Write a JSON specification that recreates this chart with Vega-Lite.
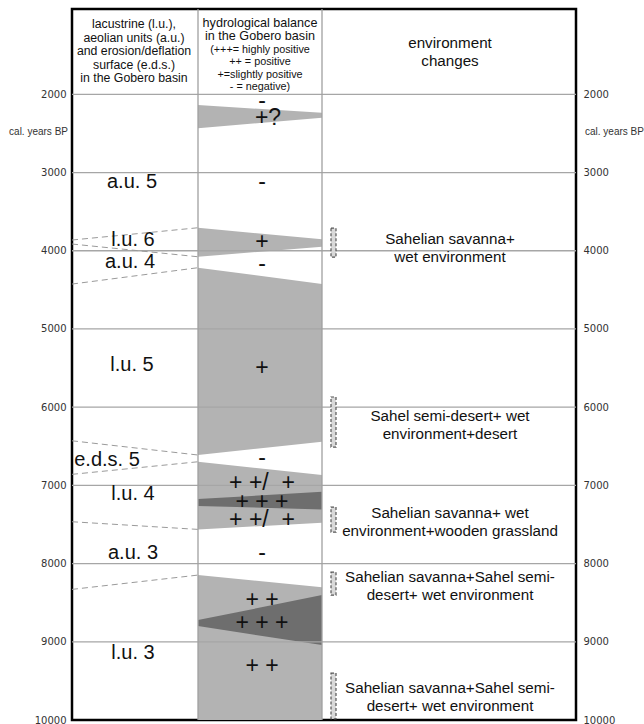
{
  "$schema": "https://vega.github.io/schema/vega-lite/v6.json",
  "width": 504,
  "height": 711,
  "autosize": "none",
  "padding": {"left": 72, "top": 9, "right": 68, "bottom": 4},
  "config": {
    "view": {"stroke": "#000", "strokeWidth": 2.5},
    "text": {"font": "Liberation Sans", "color": "#111"}
  },
  "datasets": {
    "shades": [
      {"id": "p1", "tone": "light", "pos": 126, "top": 2137, "bottom": 2435},
      {"id": "p1", "tone": "light", "pos": 250, "top": 2235, "bottom": 2299},
      {"id": "p2", "tone": "light", "pos": 126, "top": 3706, "bottom": 4077},
      {"id": "p2", "tone": "light", "pos": 250, "top": 3854, "bottom": 3949},
      {"id": "p3", "tone": "light", "pos": 126, "top": 4217, "bottom": 6612},
      {"id": "p3", "tone": "light", "pos": 250, "top": 4426, "bottom": 6442},
      {"id": "p4", "tone": "light", "pos": 126, "top": 6698, "bottom": 7563},
      {"id": "p4", "tone": "light", "pos": 250, "top": 6868, "bottom": 7478},
      {"id": "p5", "tone": "light", "pos": 126, "top": 8147, "bottom": 10000},
      {"id": "p5", "tone": "light", "pos": 250, "top": 8304, "bottom": 10000},
      {"id": "d1", "tone": "dark", "pos": 126, "top": 7175, "bottom": 7264},
      {"id": "d1", "tone": "dark", "pos": 250, "top": 7082, "bottom": 7307},
      {"id": "d2", "tone": "dark", "pos": 126, "top": 8722, "bottom": 8799},
      {"id": "d2", "tone": "dark", "pos": 250, "top": 8403, "bottom": 9042}
    ],
    "bounds": [
      {"id": "A", "pos": 0, "year": 3863}, {"id": "A", "pos": 126, "year": 3706},
      {"id": "B", "pos": 0, "year": 3914}, {"id": "B", "pos": 126, "year": 4077},
      {"id": "C", "pos": 0, "year": 4426}, {"id": "C", "pos": 126, "year": 4217},
      {"id": "D", "pos": 0, "year": 6430}, {"id": "D", "pos": 126, "year": 6612},
      {"id": "E", "pos": 0, "year": 6859}, {"id": "E", "pos": 126, "year": 6698},
      {"id": "F", "pos": 0, "year": 7465}, {"id": "F", "pos": 126, "year": 7563},
      {"id": "G", "pos": 0, "year": 8330}, {"id": "G", "pos": 126, "year": 8147}
    ],
    "grid": [{"year": 2000}, {"year": 3000}, {"year": 4000}, {"year": 5000}, {"year": 6000}, {"year": 7000}, {"year": 8000}, {"year": 9000}],
    "columns": [{"pos": 126}, {"pos": 250}],
    "samples": [
      {"pos": 259, "pos2": 264, "top": 3711, "bottom": 4082},
      {"pos": 259, "pos2": 264, "top": 5870, "bottom": 6510},
      {"pos": 259, "pos2": 264, "top": 7278, "bottom": 7598},
      {"pos": 259, "pos2": 264, "top": 8110, "bottom": 8404},
      {"pos": 259, "pos2": 264, "top": 9400, "bottom": 9985}
    ],
    "units": [
      {"label": "a.u. 5", "pos": 60, "year": 3118},
      {"label": "l.u. 6", "pos": 61, "year": 3863},
      {"label": "a.u. 4", "pos": 58, "year": 4141},
      {"label": "l.u. 5", "pos": 60, "year": 5462},
      {"label": "e.d.s. 5", "pos": 35, "year": 6676},
      {"label": "l.u. 4", "pos": 61, "year": 7111},
      {"label": "a.u. 3", "pos": 61, "year": 7866},
      {"label": "l.u. 3", "pos": 61, "year": 9145}
    ],
    "balance": [
      {"label": "-", "pos": 190, "year": 2086},
      {"label": "+?", "pos": 196, "year": 2299},
      {"label": "-", "pos": 190, "year": 3118},
      {"label": "+", "pos": 190, "year": 3893},
      {"label": "-", "pos": 190, "year": 4164},
      {"label": "+", "pos": 190, "year": 5498},
      {"label": "-", "pos": 190, "year": 6655},
      {"label": "+ +/\u00a0 +", "pos": 190, "year": 6974},
      {"label": "+ + +", "pos": 190, "year": 7217},
      {"label": "+ +/\u00a0 +", "pos": 190, "year": 7444},
      {"label": "-", "pos": 190, "year": 7866},
      {"label": "+ +", "pos": 190, "year": 8467},
      {"label": "+ + +", "pos": 190, "year": 8765},
      {"label": "+ +", "pos": 190, "year": 9311}
    ],
    "environment": [
      {"label": "Sahelian savanna+\nwet environment", "pos": 378, "year": 3850},
      {"label": "Sahel semi-desert+ wet\nenvironment+desert", "pos": 378, "year": 6114},
      {"label": "Sahelian savanna+ wet\nenvironment+wooden grassland", "pos": 378, "year": 7354},
      {"label": "Sahelian savanna+Sahel semi-\ndesert+ wet environment", "pos": 378, "year": 8173},
      {"label": "Sahelian savanna+Sahel semi-\ndesert+ wet environment", "pos": 378, "year": 9592}
    ],
    "headerA": [
      {"label": "lacustrine (l.u.),\naeolian units (a.u.)\nand erosion/deflation\nsurface (e.d.s.)\nin the Gobero basin", "pos": 62, "year": 1101}
    ],
    "headerB": [
      {"label": "hydrological balance\nin the Gobero basin", "pos": 188, "year": 1088}
    ],
    "headerC": [
      {"label": "(+++= highly positive\n++ = positive\n+=slightly positive\n- = negative)", "pos": 188, "year": 1433}
    ],
    "headerD": [
      {"label": "environment\nchanges", "pos": 378, "year": 1344}
    ],
    "unitLeft": [{"label": "cal. years BP", "pos": -4, "year": 2483}],
    "unitRight": [{"label": "cal. years BP", "pos": 513, "year": 2483}]
  },
  "resolve": {"axis": {"y": "independent"}},
  "layer": [
    {
      "data": {"name": "shades"},
      "transform": [{"filter": "datum.tone == 'light'"}],
      "mark": {"type": "area", "orient": "vertical", "color": "#b3b3b3", "opacity": 1},
      "encoding": {
        "x": {"field": "pos", "type": "quantitative", "scale": {"domain": [0, 504], "nice": false, "zero": false}, "axis": null},
        "y": {"field": "top", "type": "quantitative", "scale": {"domain": [909, 10000], "reverse": true, "nice": false, "zero": false}, "axis": null},
        "y2": {"field": "bottom"},
        "detail": {"field": "id"}
      }
    },
    {
      "data": {"name": "shades"},
      "transform": [{"filter": "datum.tone == 'dark'"}],
      "mark": {"type": "area", "orient": "vertical", "color": "#6e6e6e", "opacity": 1},
      "encoding": {
        "x": {"field": "pos", "type": "quantitative", "axis": null},
        "y": {"field": "top", "type": "quantitative", "axis": null},
        "y2": {"field": "bottom"},
        "detail": {"field": "id"}
      }
    },
    {
      "data": {"name": "grid"},
      "mark": {"type": "rule", "color": "#a6a6a6", "strokeWidth": 1.3},
      "encoding": {
        "y": {"field": "year", "type": "quantitative", "axis": {"orient": "left", "labelPadding": 6, "values": [2000, 3000, 4000, 5000, 6000, 7000, 8000, 9000, 10000], "format": "d", "grid": false, "ticks": false, "domain": false, "labelFont": "DejaVu Sans", "labelFontSize": 10, "labelColor": "#333", "title": null, "labelOverlap": false}}
      }
    },
    {
      "data": {"name": "columns"},
      "mark": {"type": "rule", "color": "#a0a0a0", "strokeWidth": 1.3},
      "encoding": {
        "x": {"field": "pos", "type": "quantitative", "axis": null}
      }
    },
    {
      "data": {"name": "bounds"},
      "mark": {"type": "line", "color": "#9a9a9a", "strokeWidth": 1, "strokeDash": [6, 4]},
      "encoding": {
        "x": {"field": "pos", "type": "quantitative", "axis": null},
        "y": {"field": "year", "type": "quantitative", "axis": null},
        "detail": {"field": "id"}
      }
    },
    {
      "data": {"name": "samples"},
      "mark": {"type": "rect", "fill": "#d9d9d9", "stroke": "#555", "strokeWidth": 1.2, "strokeDash": [3, 2]},
      "encoding": {
        "x": {"field": "pos", "type": "quantitative", "axis": null},
        "x2": {"field": "pos2"},
        "y": {"field": "top", "type": "quantitative", "axis": null},
        "y2": {"field": "bottom"}
      }
    },
    {
      "data": {"name": "units"},
      "mark": {"type": "text", "fontSize": 20, "align": "center", "baseline": "middle"},
      "encoding": {
        "x": {"field": "pos", "type": "quantitative", "axis": null},
        "y": {"field": "year", "type": "quantitative", "axis": null},
        "text": {"field": "label"}
      }
    },
    {
      "data": {"name": "balance"},
      "mark": {"type": "text", "fontSize": 23, "align": "center", "baseline": "middle"},
      "encoding": {
        "x": {"field": "pos", "type": "quantitative", "axis": null},
        "y": {"field": "year", "type": "quantitative", "axis": null},
        "text": {"field": "label"}
      }
    },
    {
      "data": {"name": "environment"},
      "mark": {"type": "text", "fontSize": 15.2, "lineHeight": 17.5, "lineBreak": "\n", "align": "center", "baseline": "middle"},
      "encoding": {
        "x": {"field": "pos", "type": "quantitative", "axis": null},
        "y": {"field": "year", "type": "quantitative", "axis": {"orient": "right", "labelPadding": 7, "values": [2000, 3000, 4000, 5000, 6000, 7000, 8000, 9000, 10000], "format": "d", "grid": false, "ticks": false, "domain": false, "labelFont": "DejaVu Sans", "labelFontSize": 10, "labelColor": "#333", "title": null, "labelOverlap": false}},
        "text": {"field": "label"}
      }
    },
    {
      "data": {"name": "headerA"},
      "mark": {"type": "text", "fontSize": 12.3, "lineHeight": 13.5, "lineBreak": "\n", "align": "center", "baseline": "middle"},
      "encoding": {
        "x": {"field": "pos", "type": "quantitative", "axis": null},
        "y": {"field": "year", "type": "quantitative", "axis": null},
        "text": {"field": "label"}
      }
    },
    {
      "data": {"name": "headerB"},
      "mark": {"type": "text", "fontSize": 12.6, "lineHeight": 13, "lineBreak": "\n", "align": "center", "baseline": "middle"},
      "encoding": {
        "x": {"field": "pos", "type": "quantitative", "axis": null},
        "y": {"field": "year", "type": "quantitative", "axis": null},
        "text": {"field": "label"}
      }
    },
    {
      "data": {"name": "headerC"},
      "mark": {"type": "text", "fontSize": 10.8, "lineHeight": 12.3, "lineBreak": "\n", "align": "center", "baseline": "middle"},
      "encoding": {
        "x": {"field": "pos", "type": "quantitative", "axis": null},
        "y": {"field": "year", "type": "quantitative", "axis": null},
        "text": {"field": "label"}
      }
    },
    {
      "data": {"name": "headerD"},
      "mark": {"type": "text", "fontSize": 15.2, "lineHeight": 17.5, "lineBreak": "\n", "align": "center", "baseline": "middle"},
      "encoding": {
        "x": {"field": "pos", "type": "quantitative", "axis": null},
        "y": {"field": "year", "type": "quantitative", "axis": null},
        "text": {"field": "label"}
      }
    },
    {
      "data": {"name": "unitLeft"},
      "mark": {"type": "text", "fontSize": 10, "align": "right", "baseline": "middle", "color": "#333"},
      "encoding": {
        "x": {"field": "pos", "type": "quantitative", "axis": null},
        "y": {"field": "year", "type": "quantitative", "axis": null},
        "text": {"field": "label"}
      }
    },
    {
      "data": {"name": "unitRight"},
      "mark": {"type": "text", "fontSize": 10, "align": "left", "baseline": "middle", "color": "#333"},
      "encoding": {
        "x": {"field": "pos", "type": "quantitative", "axis": null},
        "y": {"field": "year", "type": "quantitative", "axis": null},
        "text": {"field": "label"}
      }
    }
  ]
}
